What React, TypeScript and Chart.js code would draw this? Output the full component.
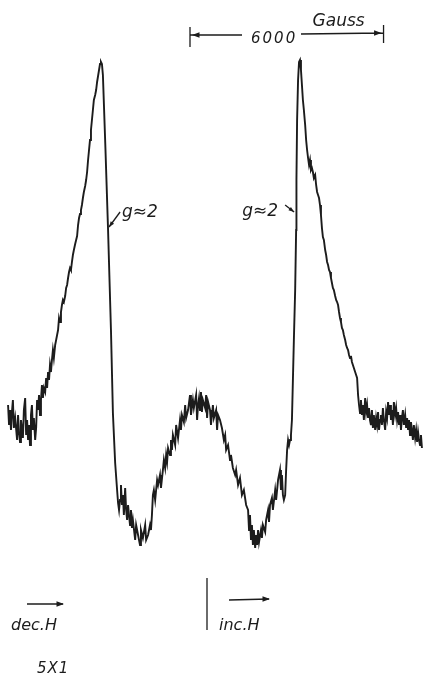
import React, { useEffect, useRef } from "react";
import { Chart, registerables } from "chart.js";

Chart.register(...registerables);

// Magnetic field (Gauss) read along the sweep
const fieldG: number[] = [
  // low-field baseline
  250, 280, 310, 340, 370, 400, 430, 470, 530, 560, 590, 620, 650, 710, 740, 780, 810, 840, 870, 900,
  930, 960, 990, 1020, 1050, 1090, 1120, 1150, 1180, 1210, 1240, 1270, 1300, 1330, 1360, 1400,
  // rising wing of first line
  1430, 1460, 1490, 1520, 1550, 1580, 1610, 1640, 1670, 1710, 1740, 1770, 1800, 1830, 1860, 1890,
  1920, 1950, 1980, 2020, 2050, 2080, 2110, 2140, 2170, 2200, 2230, 2260, 2290, 2330, 2360, 2390,
  2420, 2450, 2480, 2510, 2540, 2570, 2600, 2640, 2670, 2700, 2730, 2760, 2790, 2820, 2850, 2880,
  2910, 2950, 2980, 3010, 3040, 3070, 3100, 3130, 3160, 3190,
  // steep crossing near g ~ 2
  3270, 3350, 3440, 3500, 3570, 3630, 3660, 3690,
  // first trough
  3720, 3750, 3780, 3810, 3840, 3880, 3910, 3940, 3970, 4030, 4060, 4090, 4120, 4190, 4220, 4280,
  4340, 4370, 4430, 4500, 4530, 4590, 4650, 4680, 4710, 4740, 4770, 4810, 4840, 4870, 4900, 4960,
  4990, 5050, 5080, 5120, 5150, 5180, 5210, 5270, 5300, 5330, 5360, 5430, 5460, 5520,
  // central hump
  5580, 5610, 5640, 5700, 5740, 5770, 5830, 5890, 5920, 5980, 6010, 6080, 6110, 6140, 6170, 6200,
  6230, 6260, 6290, 6360, 6390, 6420, 6450, 6510, 6540, 6600, 6630, 6700, 6730, 6760, 6820, 6880,
  6940, 6980, 7010, 7070, 7130, 7160, 7220, 7290, 7320, 7380, 7440, 7500, 7560, 7630,
  // second trough
  7690, 7720, 7750, 7780, 7810, 7840, 7870, 7910, 7940, 7970, 8000, 8030, 8090, 8120, 8150, 8220,
  8250, 8310, 8340, 8370, 8430, 8460, 8530, 8560, 8620, 8680, 8710, 8740, 8770, 8800, 8840, 8870,
  8900, 8930, 8960, 8990, 9020, 9050,
  // steep rise near g ~ 2 and second maximum
  9080, 9110, 9150, 9180, 9190, 9210, 9240, 9270, 9300,
  // falling wing of second line
  9330, 9360, 9390, 9420, 9460, 9490, 9520, 9550, 9580, 9610, 9640, 9670, 9700, 9730, 9770, 9800,
  9830, 9860, 9890, 9920, 9950, 9980, 10010, 10040, 10080, 10110, 10140, 10170, 10200, 10230, 10260,
  10290, 10320, 10350, 10390, 10420, 10450, 10480, 10510, 10540, 10570, 10600, 10630, 10660, 10700,
  10730, 10760, 10790, 10820, 10850, 10880, 10910, 10940, 10970, 11010, 11040, 11070,
  // high-field baseline
  11100, 11130, 11160, 11190, 11220, 11250, 11280, 11320, 11350, 11380, 11410, 11440, 11470, 11500,
  11530, 11560, 11590, 11630, 11660, 11690, 11720, 11750, 11780, 11810, 11840, 11870, 11900, 11940,
  11970, 12000, 12030, 12060, 12090, 12120, 12150, 12180, 12210, 12250, 12280, 12310, 12340, 12370,
  12400, 12430, 12460, 12490, 12520, 12560, 12590, 12620, 12650, 12680, 12710, 12740, 12770, 12800,
  12830, 12870, 12900, 12930, 12960, 12990, 13020, 13050, 13080,
];

// Recorded signal (arbitrary units)
const signal: number[] = [
  // low-field baseline
  25, 5, 20, 0, 18, 30, 2, 12, -10, 15, -2, -12, 10, -8, 20, 32, -5, 10, -10, 5,
  -15, 15, 25, 0, 12, -10, 2, 30, 20, 35, 15, 30, 45, 32, 42, 38,
  // rising wing of first line
  52, 42, 58, 50, 65, 58, 70, 80, 72, 85, 90, 95, 100, 112, 108, 118,
  125, 130, 128, 134, 142, 145, 152, 158, 162, 160, 168, 175, 180, 186, 190, 194,
  205, 212, 216, 220, 225, 232, 238, 244, 250, 258, 270, 280, 290, 300, 310, 320,
  330, 335, 340, 348, 354, 360, 366, 368, 366, 355,
  // steep crossing near g ~ 2
  280, 200, 100, 17, -33, -60, -73, -80,
  // first trough
  -70, -55, -75, -65, -85, -58, -80, -90, -75, -95, -80, -98, -90, -110, -95, -105,
  -115, -100, -108, -95, -110, -105, -95, -100, -85, -65, -60, -70, -60, -50, -55, -45,
  -58, -40, -30, -38, -25, -32, -18, -25, -10, -20, -5, -15, 5, -8,
  // central hump
  10, 0, 15, 8, 25, 12, 20, 35, 15, 30, 22, 35, 10, 25, 32, 20,
  38, 18, 30, 22, 35, 12, 28, 20, 5, 25, 12, 20, 0, 15, 10, 2,
  -10, -5, -20, -15, -30, -25, -38, -45, -40, -55, -48, -65, -60, -75,
  // second trough
  -80, -100, -85, -110, -95, -115, -100, -118, -105, -115, -100, -112, -100, -108, -95, -102,
  -90, -80, -92, -75, -68, -80, -60, -70, -50, -40, -60, -45, -65, -70, -65, -40,
  -20, -10, -15, -10, -5, 10,
  // steep rise near g ~ 2 and second maximum
  50, 90, 140, 200, 250, 310, 350, 368, 370,
  // falling wing of second line
  360, 345, 330, 320, 305, 290, 280, 272, 265, 270, 260, 262, 258, 252, 255, 245,
  238, 235, 232, 225, 215, 202, 193, 190, 180, 175, 168, 165, 160, 158, 152,
  147, 142, 140, 134, 130, 128, 125, 118, 112, 108, 102, 100, 95, 90,
  85, 82, 80, 75, 72, 74, 68, 65, 62, 58, 55, 52,
  // high-field baseline
  35, 25, 17, 30, 15, 25, 10, 32, 18, 25, 12, 22, 10, 5,
  20, 2, 15, 0, 12, 5, 18, 0, 10, 15, 5, 22, 10, 0,
  18, 12, 28, 15, 25, 10, 20, 5, 28, 15, 22, 10, 18, 5,
  15, 0, 12, 20, 5, 15, 2, 12, 0, 10, -5, 8, 0, -10,
  5, -8, 0, -12, -2, -10, -15, -5, -18,
];

// Annotation values
const BAR_START_G = 5890;
const BAR_LENGTH_G = 6000;
const BAR_LABEL = "6000";
const BAR_UNIT = "Gauss";
const G_LABEL = "g\u22482";
const G_LEFT_FIELD = 3350;
const G_RIGHT_FIELD = 9180;
const DEC_LABEL = "dec.H";
const INC_LABEL = "inc.H";
const GAIN_LABEL = "5X1";

const INK = "#1c1c1c";

function arrowHead(ctx: CanvasRenderingContext2D, x: number, y: number, ang: number, len: number, filled: boolean) {
  ctx.beginPath();
  ctx.moveTo(x - len * Math.cos(ang - 0.35), y - len * Math.sin(ang - 0.35));
  ctx.lineTo(x, y);
  ctx.lineTo(x - len * Math.cos(ang + 0.35), y - len * Math.sin(ang + 0.35));
  if (filled) {
    ctx.closePath();
    ctx.fill();
  } else {
    ctx.stroke();
  }
}

const annotations = {
  id: "annotations",
  afterDraw(chart: any) {
    const ctx: CanvasRenderingContext2D = chart.ctx;
    const xs = chart.scales.x;
    ctx.save();
    ctx.strokeStyle = INK;
    ctx.fillStyle = INK;
    ctx.lineWidth = 1.3;
    ctx.textBaseline = "alphabetic";

    // 6000 Gauss scale bar
    const x0 = xs.getPixelForValue(BAR_START_G);
    const x1 = xs.getPixelForValue(BAR_START_G + BAR_LENGTH_G);
    const yb = 35;
    ctx.beginPath();
    ctx.moveTo(x0, 27);
    ctx.lineTo(x0, 47);
    ctx.moveTo(x1, 25);
    ctx.lineTo(x1, 43);
    ctx.moveTo(x0, yb);
    ctx.lineTo(x0 + 52, yb);
    ctx.moveTo(x0 + 111, yb - 1);
    ctx.lineTo(x1, yb - 2);
    ctx.stroke();
    arrowHead(ctx, x0 + 2, yb, Math.PI, 8, true);
    arrowHead(ctx, x1 - 2, yb - 2, 0, 8, true);
    ctx.font = 'italic 15px "DejaVu Sans"';
    (ctx as any).letterSpacing = "2px";
    ctx.textAlign = "left";
    ctx.fillText(BAR_LABEL, x0 + 61, 43);
    (ctx as any).letterSpacing = "0px";
    ctx.font = 'italic 17px "DejaVu Sans"';
    ctx.fillText(BAR_UNIT, x1 - 71, 26);

    // g ~ 2 labels
    ctx.font = 'italic 17px "DejaVu Sans"';
    const gl = xs.getPixelForValue(G_LEFT_FIELD);
    ctx.fillText(G_LABEL, gl + 14, 217);
    ctx.beginPath();
    ctx.moveTo(gl + 12, 212);
    ctx.lineTo(gl + 1, 227);
    ctx.stroke();
    arrowHead(ctx, gl + 1, 227, Math.atan2(15, -11), 6, true);

    const gr = xs.getPixelForValue(G_RIGHT_FIELD);
    ctx.textAlign = "right";
    ctx.fillText(G_LABEL, gr - 18, 216);
    ctx.beginPath();
    ctx.moveTo(gr - 11, 205);
    ctx.lineTo(gr - 2, 212);
    ctx.stroke();
    arrowHead(ctx, gr - 2, 212, Math.atan2(7, 9), 6, true);

    // sweep direction markers
    ctx.textAlign = "left";
    ctx.font = 'italic 16px "DejaVu Sans"';
    ctx.fillText(DEC_LABEL, 11, 630);
    ctx.beginPath();
    ctx.moveTo(27, 604);
    ctx.lineTo(63, 604);
    ctx.stroke();
    arrowHead(ctx, 64, 604, 0, 8, true);

    ctx.beginPath();
    ctx.moveTo(207, 578);
    ctx.lineTo(207, 630);
    ctx.stroke();
    ctx.fillText(INC_LABEL, 219, 630);
    ctx.beginPath();
    ctx.moveTo(229, 600);
    ctx.lineTo(269, 599);
    ctx.stroke();
    arrowHead(ctx, 270, 599, 0, 8, true);

    ctx.font = 'italic 15px "DejaVu Sans"';
    (ctx as any).letterSpacing = "1px";
    ctx.fillText(GAIN_LABEL, 37, 673);
    ctx.restore();
  },
};

export default function App() {
  const ref = useRef<HTMLCanvasElement | null>(null);
  useEffect(() => {
    if (!ref.current) return;
    const chart = new Chart(ref.current, {
      type: "line",
      data: {
        datasets: [
          {
            data: fieldG.map((h, i) => ({ x: h, y: signal[i] })),
            borderColor: INK,
            borderWidth: 1.9,
            pointRadius: 0,
            tension: 0,
            fill: false,
          },
        ],
      },
      options: {
        animation: false,
        responsive: false,
        maintainAspectRatio: false,
        layout: { padding: 0 },
        plugins: { legend: { display: false }, tooltip: { enabled: false } },
        scales: {
          x: { type: "linear", min: 0, max: 13113, display: false },
          y: { type: "linear", min: -249, max: 430, display: false },
        },
      },
      plugins: [annotations],
    });
    return () => chart.destroy();
  }, []);
  return (
    <div style={{ position: "fixed", left: 0, top: 0, width: 423, height: 679, background: "#fff" }}>
      <canvas ref={ref} width={423} height={679} style={{ width: 423, height: 679, display: "block" }} />
    </div>
  );
}
